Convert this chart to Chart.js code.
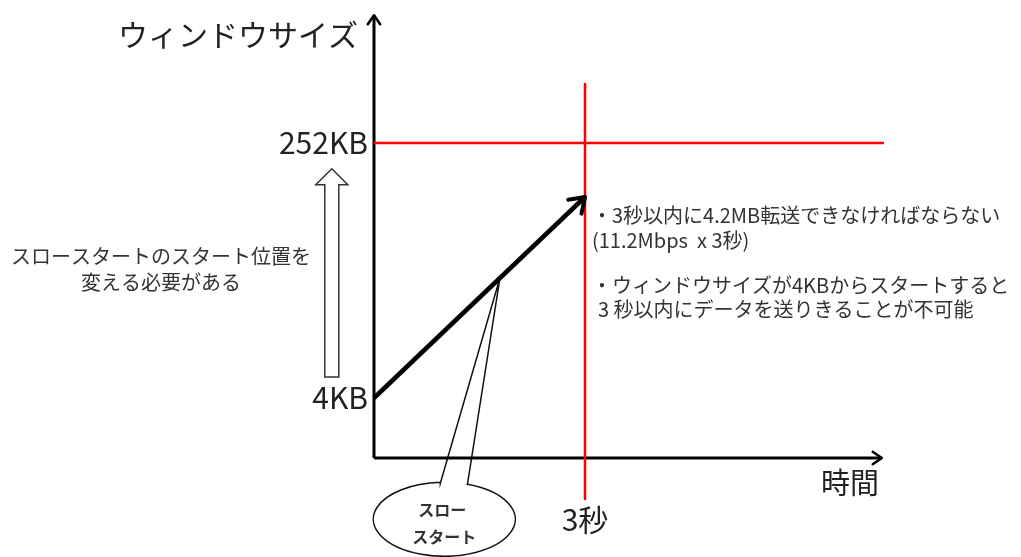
<!DOCTYPE html>
<html>
<head>
<meta charset="utf-8">
<script src="https://cdn.jsdelivr.net/npm/chart.js@4/dist/chart.umd.min.js"></script>
<style>
  html, body { margin: 0; padding: 0; background: #fff; }
  #wrap { width: 1021px; height: 557px; position: relative; }
</style>
</head>
<body>
<div id="wrap"><canvas id="chart"></canvas></div>
<script>
// time axis in seconds, window axis in diagram "levels"
const timeTicks = [3];
const timeLabels = ["3秒"];
const windowLevels = [1, 5.25];
const windowLabels = ["4KB", "252KB"];

const slowStartX = [0, 3];
const slowStartY = [1, 4.35];

const limitLineX = [0, 7.25];        // 252KB line
const deadlineLineY = [-0.7, 6.25];  // 3秒 line

const xAxisEnd = 7.22;
const yAxisEnd = 7.38;

const xTitle = "時間";
const yTitle = "ウィンドウサイズ";
const leftNote = ["スロースタートのスタート位置を", "変える必要がある"];
const rightNote1 = ["・3秒以内に4.2MB転送できなければならない", "(11.2Mbps  x 3秒)"];
const rightNote2 = ["・ウィンドウサイズが4KBからスタートすると", "3 秒以内にデータを送りきることが不可能"];
const calloutText = ["スロー", "スタート"];
const calloutAt = { x: 1.0, y: -1.02, tipX: 1.79 };
const hollowArrow = { x: -0.6, from: 1.35, to: 4.82 };

const FONT = '"Noto Sans CJK JP", "Noto Sans", sans-serif';

function seg(xs, ys) {
    return xs.map((x, i) => ({ x: x, y: ys[i] }));
}

function arrowHead(ctx, x1, y1, x2, y2, len, width, color) {
    const a = Math.atan2(y2 - y1, x2 - x1);
    ctx.save();
    ctx.strokeStyle = color;
    ctx.lineWidth = width;
    ctx.lineCap = "round";
    ctx.lineJoin = "round";
    ctx.beginPath();
    ctx.moveTo(x2 - len * Math.cos(a - 0.6), y2 - len * Math.sin(a - 0.6));
    ctx.lineTo(x2, y2);
    ctx.lineTo(x2 - len * Math.cos(a + 0.6), y2 - len * Math.sin(a + 0.6));
    ctx.stroke();
    ctx.restore();
}

const diagramPlugin = {
    id: "diagram",
    beforeDatasetsDraw(chart) {
        const ctx = chart.ctx;
        const xs = chart.scales.x, ys = chart.scales.y;

        // hollow up arrow
        const ax = xs.getPixelForValue(hollowArrow.x);
        const bottom = ys.getPixelForValue(hollowArrow.from);
        const tip = ys.getPixelForValue(hollowArrow.to);
        ctx.save();
        ctx.beginPath();
        ctx.moveTo(ax - 7, bottom);
        ctx.lineTo(ax - 7, tip + 16);
        ctx.lineTo(ax - 16, tip + 16);
        ctx.lineTo(ax, tip);
        ctx.lineTo(ax + 16, tip + 16);
        ctx.lineTo(ax + 7, tip + 16);
        ctx.lineTo(ax + 7, bottom);
        ctx.closePath();
        ctx.fillStyle = "#fff";
        ctx.fill();
        ctx.strokeStyle = "#333";
        ctx.lineWidth = 1.5;
        ctx.stroke();
        ctx.restore();

        // callout balloon
        const cx = xs.getPixelForValue(calloutAt.x);
        const cy = ys.getPixelForValue(calloutAt.y);
        const rx = 71, ry = 37;
        const tx = xs.getPixelForValue(calloutAt.tipX);
        const k = (slowStartY[1] - slowStartY[0]) / (slowStartX[1] - slowStartX[0]);
        const ty = ys.getPixelForValue(slowStartY[0] + k * (calloutAt.tipX - slowStartX[0]));
        const tL = -Math.acos(-4 / rx);
        const tR = -Math.acos(23 / rx);
        ctx.save();
        ctx.beginPath();
        ctx.ellipse(cx, cy, rx, ry, 0, 0, Math.PI * 2);
        ctx.fillStyle = "#fff";
        ctx.fill();
        ctx.beginPath();
        ctx.moveTo(cx + rx * Math.cos(tL), cy + ry * Math.sin(tL));
        ctx.lineTo(cx - 4, cy - ry + 1);
        ctx.lineTo(tx, ty);
        ctx.lineTo(cx + 23, cy - ry + 3);
        ctx.lineTo(cx + rx * Math.cos(tR), cy + ry * Math.sin(tR));
        ctx.ellipse(cx, cy, rx, ry, 0, tR, tL + Math.PI * 2, false);
        ctx.strokeStyle = "#111";
        ctx.lineWidth = 1.5;
        ctx.stroke();
        ctx.fillStyle = "#333";
        ctx.font = "600 16px " + FONT;
        ctx.textAlign = "center";
        ctx.textBaseline = "middle";
        ctx.fillText(calloutText[0], cx - 2, cy - 9);
        ctx.fillText(calloutText[1], cx, cy + 18);
        ctx.restore();
    },
    afterDatasetsDraw(chart) {
        const ctx = chart.ctx;
        const xs = chart.scales.x, ys = chart.scales.y;
        const x0 = xs.getPixelForValue(0), y0 = ys.getPixelForValue(0);

        arrowHead(ctx, x0, y0, x0, ys.getPixelForValue(yAxisEnd), 11, 2.5, "#000");
        arrowHead(ctx, x0, y0, xs.getPixelForValue(xAxisEnd), y0, 11, 2.5, "#000");
        arrowHead(ctx,
            xs.getPixelForValue(slowStartX[0]), ys.getPixelForValue(slowStartY[0]),
            xs.getPixelForValue(slowStartX[1]), ys.getPixelForValue(slowStartY[1]),
            17, 4, "#000");

        ctx.save();
        ctx.fillStyle = "#222";
        ctx.textBaseline = "middle";

        // window size tick labels
        ctx.font = "30px " + FONT;
        ctx.textAlign = "right";
        windowLevels.forEach((v, i) => {
            ctx.fillText(windowLabels[i], x0 - 6, ys.getPixelForValue(v));
        });
        // time tick labels
        ctx.textAlign = "center";
        timeTicks.forEach((v, i) => {
            ctx.fillText(timeLabels[i], xs.getPixelForValue(v), 520);
        });
        // axis titles
        ctx.font = "29px " + FONT;
        ctx.fillText(xTitle, 850, 483);
        ctx.font = "30px " + FONT;
        ctx.textAlign = "right";
        ctx.fillText(yTitle, 358, 35);

        // notes
        ctx.fillStyle = "#333";
        ctx.font = "20px " + FONT;
        ctx.textAlign = "center";
        ctx.fillText(leftNote[0], 161, 256);
        ctx.fillText(leftNote[1], 161, 282);
        ctx.textAlign = "left";
        ctx.fillText(rightNote1[0], 592, 215);
        ctx.fillText(rightNote1[1], 592, 240);
        ctx.fillText(rightNote2[0], 592, 285);
        ctx.fillText(rightNote2[1], 598, 309);
        ctx.restore();
    }
};

const pxX = 70.333, pxY = 60;
new Chart(document.getElementById("chart"), {
    type: "scatter",
    data: {
        datasets: [
            { data: seg(slowStartX, slowStartY), borderColor: "#000", borderWidth: 4.5 },
            { data: seg(limitLineX, [windowLevels[1], windowLevels[1]]), borderColor: "#ff0000", borderWidth: 2.5 },
            { data: seg([timeTicks[0], timeTicks[0]], deadlineLineY), borderColor: "#ff0000", borderWidth: 2.5 },
            { data: seg([0, xAxisEnd], [0, 0]), borderColor: "#000", borderWidth: 3 },
            { data: seg([0, 0], [0, yAxisEnd]), borderColor: "#000", borderWidth: 3 }
        ].map(d => Object.assign(d, { showLine: true, pointRadius: 0, fill: false, tension: 0, clip: false }))
    },
    options: {
        responsive: true,
        maintainAspectRatio: false,
        animation: false,
        events: [],
        layout: { padding: 0 },
        plugins: { legend: { display: false }, tooltip: { enabled: false } },
        scales: {
            x: { type: "linear", display: false, min: -374 / pxX, max: (1021 - 374) / pxX },
            y: { type: "linear", display: false, min: -(557 - 458) / pxY, max: 458 / pxY }
        }
    },
    plugins: [diagramPlugin]
});
</script>
</body>
</html>
